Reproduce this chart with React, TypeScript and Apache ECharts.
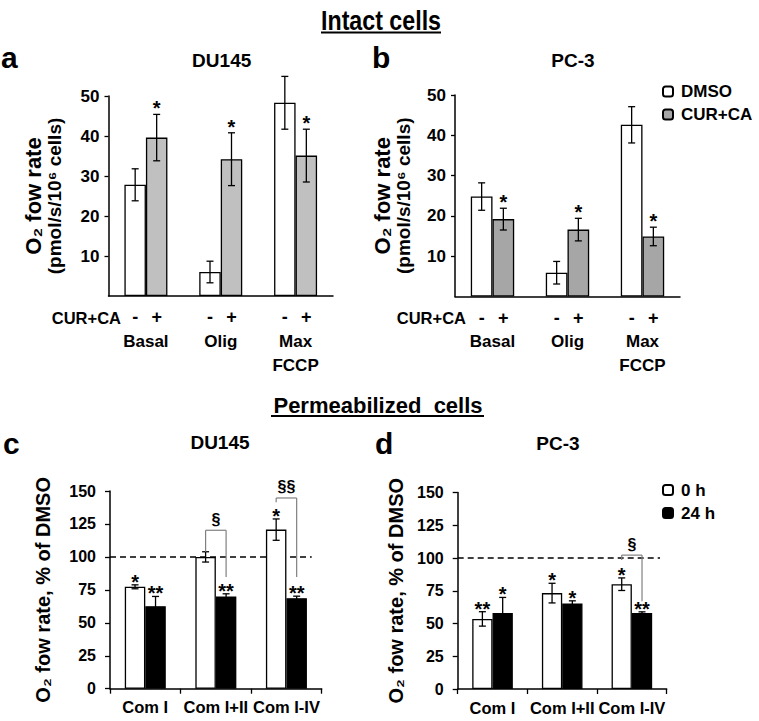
import React, { useEffect, useRef } from 'react';
import * as echarts from 'echarts';

// ---------- data ----------
const intactCategories = ['Basal', 'Olig', 'Max\nFCCP'];
const du145IntactDMSO = [27.8, 6.0, 48.3];
const du145IntactDMSOErr = [4.0, 2.7, 6.6];
const du145IntactCUR = [39.6, 34.2, 35.1];
const du145IntactCURErr = [5.8, 6.6, 6.6];
const du145IntactDMSOStars = ['', '', ''];
const du145IntactCURStars = ['*', '*', '*'];

const pc3IntactDMSO = [24.8, 5.9, 42.6];
const pc3IntactDMSOErr = [3.4, 2.8, 4.5];
const pc3IntactCUR = [19.2, 16.6, 14.9];
const pc3IntactCURErr = [2.7, 2.8, 2.3];
const pc3IntactDMSOStars = ['', '', ''];
const pc3IntactCURStars = ['*', '*', '*'];

const permCategories = ['Com I', 'Com I+II', 'Com I-IV'];
const du145Perm0h = [77.3, 100, 120.7];
const du145Perm0hErr = [1.5, 3.9, 8.1];
const du145Perm24h = [62.6, 70, 68.7];
const du145Perm24hErr = [7.4, 2.0, 1.5];
const du145Perm0hStars = ['*', '', '*'];
const du145Perm24hStars = ['**', '**', '**'];

const pc3Perm0h = [53.5, 73.2, 80];
const pc3Perm0hErr = [5.5, 7.5, 4.8];
const pc3Perm24h = [58.1, 65.3, 58.1];
const pc3Perm24hErr = [11.8, 2.0, 0.8];
const pc3Perm0hStars = ['**', '*', '*'];
const pc3Perm24hStars = ['*', '*', '**'];

// significance brackets: [category index, top, left end, right end]
const du145Brackets = [[1, 120.2, 104, 84.8], [2, 144.7, 141.4, 84.8]];
const du145BracketLabels = ['§', '§§'];
const pc3Brackets = [[2, 102.2, 98.4, 67]];
const pc3BracketLabels = ['§'];

const referenceLevel = 100;
const intactTicks = { min: 0, max: 50, interval: 10 };
const permTicks = { min: 0, max: 150, interval: 25 };

// ---------- helpers ----------
const FONT = '"DejaVu Sans", sans-serif';
const ARIAL = '"Liberation Sans", Arial, sans-serif';

function errorData(m0: number[], e0: number[], m1: number[], e1: number[]) {
  const out: number[][] = [];
  m0.forEach((m, i) => out.push([i, -1, m, e0[i]]));
  m1.forEach((m, i) => out.push([i, 1, m, e1[i]]));
  return out;
}

function errorSeries(gi: number, data: number[][], stars: string[], barWidth: number, starGap: number) {
  return {
    type: 'custom',
    xAxisIndex: gi,
    yAxisIndex: gi,
    z: 5,
    silent: true,
    encode: { x: 0, y: 2 },
    data,
    renderItem: (params: any, api: any) => {
      const cat = api.value(0);
      const side = api.value(1);
      const mean = api.value(2);
      const err = api.value(3);
      const c = api.coord([cat, mean]);
      const x = c[0] + (side * barWidth) / 2;
      const top = api.coord([cat, mean + err])[1];
      const bot = api.coord([cat, mean - err])[1];
      const cap = 3.5;
      const ls = { stroke: '#000', lineWidth: 1.3 };
      const children: any[] = [
        { type: 'line', shape: { x1: x, y1: top, x2: x, y2: bot }, style: ls },
        { type: 'line', shape: { x1: x - cap, y1: top, x2: x + cap, y2: top }, style: ls },
        { type: 'line', shape: { x1: x - cap, y1: bot, x2: x + cap, y2: bot }, style: ls },
      ];
      const star = stars[params.dataIndex];
      if (star) {
        children.push({
          type: 'text',
          x,
          y: top - starGap,
          style: { text: star, textAlign: 'center', textVerticalAlign: 'middle', font: `bold 20px ${ARIAL}`, fill: '#000' },
        });
      }
      return { type: 'group', children };
    },
  };
}

function bracketSeries(gi: number, data: number[][], labels: string[], barWidth: number) {
  return {
    type: 'custom',
    xAxisIndex: gi,
    yAxisIndex: gi,
    z: 6,
    silent: true,
    encode: { x: 0, y: 1 },
    data,
    renderItem: (params: any, api: any) => {
      const cat = api.value(0);
      const top = api.coord([cat, api.value(1)]);
      const yl = api.coord([cat, api.value(2)])[1];
      const yr = api.coord([cat, api.value(3)])[1];
      const xl = top[0] - barWidth / 2;
      const xr = top[0] + barWidth / 2;
      const ls = { stroke: '#808080', lineWidth: 1.2 };
      return {
        type: 'group',
        children: [
          { type: 'line', shape: { x1: xl, y1: top[1], x2: xr, y2: top[1] }, style: ls },
          { type: 'line', shape: { x1: xl, y1: top[1], x2: xl, y2: yl }, style: ls },
          { type: 'line', shape: { x1: xr, y1: top[1], x2: xr, y2: yr }, style: ls },
          {
            type: 'text',
            x: top[0],
            y: top[1] - 11,
            style: { text: labels[params.dataIndex], textAlign: 'center', textVerticalAlign: 'middle', font: `bold 16px ${ARIAL}`, fill: '#000' },
          },
        ],
      };
    },
  };
}

function dashedSeries(gi: number, rightInset: number) {
  return {
    type: 'custom',
    xAxisIndex: gi,
    yAxisIndex: gi,
    z: 1,
    silent: true,
    encode: { x: 0, y: 1 },
    data: [[0, referenceLevel]],
    renderItem: (params: any, api: any) => {
      const y = api.coord([0, api.value(1)])[1];
      const cs = params.coordSys;
      return {
        type: 'line',
        shape: { x1: cs.x, y1: y, x2: cs.x + cs.width - rightInset, y2: y },
        style: { stroke: '#000', lineWidth: 1.5, lineDash: [6, 4] },
      };
    },
  };
}

const labelStyle = { color: '#000', fontWeight: 'bold' as const, fontFamily: ARIAL };

function intactXAxis(gi: number) {
  return {
    type: 'category',
    gridIndex: gi,
    data: intactCategories,
    axisLine: { lineStyle: { color: '#000', width: 1.5 } },
    axisTick: { show: false },
    axisLabel: {
      interval: 0,
      margin: 9,
      color: '#000',
      formatter: (v: string) => '{pm|-}{pm|+}\n' + v.split('\n').map((s) => `{cat|${s}}`).join('\n'),
      rich: {
        pm: { width: 21.5, align: 'center', fontSize: 18, lineHeight: 24, ...labelStyle },
        cat: { fontSize: 17, lineHeight: 24, ...labelStyle },
      },
    },
  };
}

function permXAxis(gi: number) {
  return {
    type: 'category',
    gridIndex: gi,
    data: permCategories,
    axisLine: { lineStyle: { color: '#000', width: 1.5 } },
    axisTick: { show: true, length: 5, lineStyle: { color: '#000', width: 1.3 } },
    axisLabel: { interval: 0, margin: 10, fontSize: 16.5, ...labelStyle },
  };
}

function intactYAxis(gi: number, nameGap: number) {
  return {
    type: 'value',
    gridIndex: gi,
    ...intactTicks,
    axisLine: { show: true, lineStyle: { color: '#000', width: 1.5 } },
    axisTick: { show: true, length: 4, lineStyle: { color: '#000', width: 1.3 } },
    splitLine: { show: false },
    axisLabel: { fontSize: 17, margin: 9, showMinLabel: false, ...labelStyle },
    name: '{l1|O₂ fow rate}\n{l2|(pmol/s/10⁶ cells)}',
    nameLocation: 'middle',
    nameRotate: 90,
    nameGap,
    nameTextStyle: {
      rich: {
        l1: { fontSize: 22, lineHeight: 22, ...labelStyle },
        l2: { fontSize: 19, lineHeight: 20, ...labelStyle },
      },
    },
  };
}

function permYAxis(gi: number, nameGap: number) {
  return {
    type: 'value',
    gridIndex: gi,
    ...permTicks,
    axisLine: { show: true, lineStyle: { color: '#000', width: 1.5 } },
    axisTick: { show: true, length: 5, lineStyle: { color: '#000', width: 1.3 } },
    splitLine: { show: false },
    axisLabel: { fontSize: 16, margin: 14, ...labelStyle },
    name: 'O₂ fow rate, % of DMSO',
    nameLocation: 'middle',
    nameRotate: 90,
    nameGap,
    nameTextStyle: { fontSize: 20, lineHeight: 20, ...labelStyle },
  };
}

function bar(name: string, gi: number, data: number[], color: string, width: number) {
  return {
    type: 'bar',
    name,
    xAxisIndex: gi,
    yAxisIndex: gi,
    data,
    barWidth: width,
    barGap: '0%',
    z: 2,
    itemStyle: { color, borderColor: '#000', borderWidth: 1.3 },
  };
}

function txt(text: string, x: number, y: number, font: string, align = 'center', extra: any = {}) {
  return {
    type: 'text',
    x,
    y,
    ...extra,
    style: { text, font, fill: '#000', textAlign: align, textVerticalAlign: 'middle' },
  };
}

const legendText = { fontSize: 17, padding: [0, 0, 0, 3], ...labelStyle };

export default function App() {
  const ref = useRef<HTMLDivElement>(null);
  useEffect(() => {
    if (!ref.current) return;
    const chart = echarts.init(ref.current, undefined, { renderer: 'svg' });
    const option: any = {
      animation: false,
      backgroundColor: '#fff',
      grid: [
        { left: 108.5, top: 96, width: 224.5, height: 200 },
        { left: 455, top: 95, width: 225, height: 201.5 },
        { left: 110, top: 491, width: 211.7, height: 197.7 },
        { left: 457.7, top: 492.5, width: 209, height: 196.5 },
      ],
      xAxis: [intactXAxis(0), intactXAxis(1), permXAxis(2), permXAxis(3)],
      yAxis: [intactYAxis(0, 44), intactYAxis(1, 42), permYAxis(2, 57), permYAxis(3, 52)],
      legend: [
        {
          data: ['DMSO', 'CUR+CA'],
          orient: 'vertical',
          left: 662,
          top: 83,
          itemWidth: 10,
          itemHeight: 10,
          itemGap: 6,
          padding: 0,
          selectedMode: false,
          textStyle: legendText,
        },
        {
          data: ['0 h', '24 h'],
          orient: 'vertical',
          left: 662,
          top: 481.5,
          itemWidth: 10,
          itemHeight: 10,
          itemGap: 6,
          padding: 0,
          selectedMode: false,
          textStyle: legendText,
        },
      ],
      series: [
        bar('DMSO (DU145)', 0, du145IntactDMSO, '#ffffff', 21.5),
        bar('CUR+CA (DU145)', 0, du145IntactCUR, '#c0c0c0', 21.5),
        errorSeries(0, errorData(du145IntactDMSO, du145IntactDMSOErr, du145IntactCUR, du145IntactCURErr), [...du145IntactDMSOStars, ...du145IntactCURStars], 21.5, 6.3),

        bar('DMSO', 1, pc3IntactDMSO, '#ffffff', 21.7),
        bar('CUR+CA', 1, pc3IntactCUR, '#a6a6a6', 21.7),
        errorSeries(1, errorData(pc3IntactDMSO, pc3IntactDMSOErr, pc3IntactCUR, pc3IntactCURErr), [...pc3IntactDMSOStars, ...pc3IntactCURStars], 21.7, 6.3),

        bar('0 h (DU145)', 2, du145Perm0h, '#ffffff', 20.5),
        bar('24 h (DU145)', 2, du145Perm24h, '#000000', 20.5),
        errorSeries(2, errorData(du145Perm0h, du145Perm0hErr, du145Perm24h, du145Perm24hErr), [...du145Perm0hStars, ...du145Perm24hStars], 20.5, 3),
        bracketSeries(2, du145Brackets, du145BracketLabels, 20.5),
        dashedSeries(2, 10),

        bar('0 h', 3, pc3Perm0h, '#ffffff', 20.3),
        bar('24 h', 3, pc3Perm24h, '#000000', 20.3),
        errorSeries(3, errorData(pc3Perm0h, pc3Perm0hErr, pc3Perm24h, pc3Perm24hErr), [...pc3Perm0hStars, ...pc3Perm24hStars], 20.3, 3),
        bracketSeries(3, pc3Brackets, pc3BracketLabels, 20.3),
        dashedSeries(3, 6.7),
      ],
      graphic: [
        txt('Intact cells', 381, 20, `bold 27px ${ARIAL}`, 'center', { scaleX: 0.86 }),
        { type: 'line', shape: { x1: 321, y1: 32.5, x2: 441, y2: 32.5 }, style: { stroke: '#000', lineWidth: 2 } },
        txt('Permeabilized  cells', 378, 405, `bold 22px ${ARIAL}`),
        { type: 'line', shape: { x1: 271, y1: 416, x2: 484, y2: 416 }, style: { stroke: '#000', lineWidth: 2 } },
        txt('a', 1, 57, `bold 30px ${ARIAL}`, 'left'),
        txt('b', 372, 57, `bold 30px ${ARIAL}`, 'left'),
        txt('c', 3, 443, `bold 30px ${ARIAL}`, 'left'),
        txt('d', 375, 443, `bold 30px ${ARIAL}`, 'left'),
        txt('DU145', 221.7, 60, `bold 19px ${ARIAL}`),
        txt('PC-3', 573, 60, `bold 19px ${ARIAL}`),
        txt('DU145', 220, 442, `bold 19px ${ARIAL}`),
        txt('PC-3', 558, 443, `bold 19px ${ARIAL}`),
        txt('CUR+CA', 121, 318, `bold 16.5px ${ARIAL}`, 'right'),
        txt('CUR+CA', 466, 318, `bold 16.5px ${ARIAL}`, 'right'),
      ],
    };
    chart.setOption(option);
    return () => chart.dispose();
  }, []);
  return (
    <div
      ref={ref}
      style={{ position: 'fixed', left: 0, top: 0, width: 759, height: 721, background: '#fff' }}
    />
  );
}
